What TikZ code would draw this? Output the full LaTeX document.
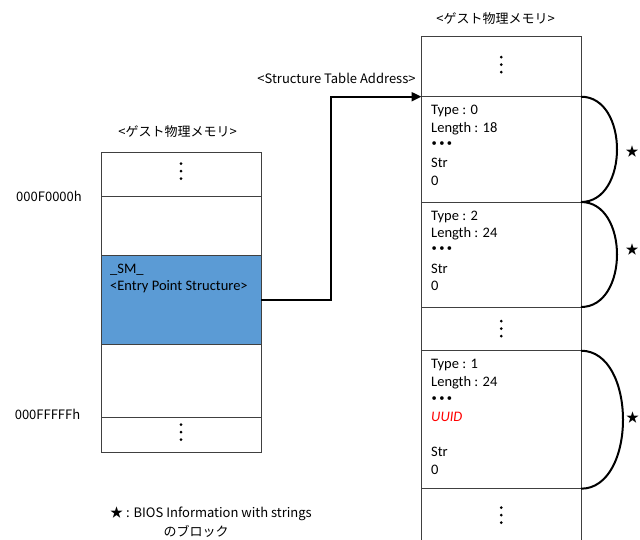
\documentclass[tikz,border=0pt]{standalone}
\usepackage{fontspec}
\setmainfont{Carlito}
\newfontfamily\jp{Noto Sans CJK JP}
\usetikzlibrary{arrows.meta,calc}
\definecolor{boxline}{HTML}{404040}
\definecolor{smblue}{HTML}{5B9BD5}
\begin{document}
\begin{tikzpicture}[x=1pt,y=-1pt,
  mem/.style={draw=boxline, line width=1pt, minimum width=160pt, anchor=north west, inner sep=0pt, outer sep=0pt},
  txt/.style={font=\fontsize{14.5}{17.5}\selectfont, anchor=base west, inner sep=0pt},
  dotsrow/.style={font=\fontsize{10.5}{12}\selectfont, anchor=west, inner sep=0pt},
  lbl/.style={font=\jp\fontsize{13}{15}\selectfont, inner sep=0pt},
  link/.style={line width=2pt, draw=black},
  loopline/.style={line width=2pt, draw=black},
  vdot/.style={fill=black}]
\useasboundingbox (0,0) rectangle (640,539);
\clip (0,0) rectangle (640,539);

% left memory column
\node[mem, minimum height=43.3pt] (L1) at (101,152.7) {};
\node[mem, minimum height=59pt] (L2) at (101,196) {};
\node[mem, minimum height=89pt, fill=smblue] (L3) at (101,255) {};
\node[mem, minimum height=73pt] (L4) at (101,344) {};
\node[mem, minimum height=35pt] (L5) at (101,417) {};

% right memory column
\node[mem, minimum width=159.5pt, minimum height=60pt] (R1) at (421.5,36.7) {};
\node[mem, minimum width=159.5pt, minimum height=105.3pt] (R2) at (421.5,96.7) {};
\node[mem, minimum width=159.5pt, minimum height=105pt] (R3) at (421.5,202) {};
\node[mem, minimum width=159.5pt, minimum height=43.7pt] (R4) at (421.5,307) {};
\node[mem, minimum width=159.5pt, minimum height=138pt] (R5) at (421.5,350.7) {};
\node[mem, minimum width=159.5pt, minimum height=80pt] (R6) at (421.5,488.7) {};

% vertical ellipses
\foreach \n/\dy in {L1/18.3, L5/15, R1/28, R4/21.5, R6/26.3}{
  \foreach \d in {-7.5,0,7.5}{
    \fill[vdot] ($(\n.north)+(0,\dy+\d)$) circle (1.5);
  }
}

% titles and labels
\node[lbl] (ttlL) at (177.5,131.7) {<ゲスト物理メモリ>};
\node[lbl] (ttlR) at (495.5,18.7) {<ゲスト物理メモリ>};
\node[lbl] (sta) at (336.5,78.3) {<Structure Table Address>};
\node[lbl] (a1) at (49,196.5) {000F0000h};
\node[lbl] (a2) at (47.5,414) {000FFFFFh};

% entry point text
\node[txt] (sm) at ($(L3.north west)+(9,18.5)$) {\_SM\_};
\node[txt] (eps) at ($(L3.north west)+(9,35.5)$) {<Entry Point Structure>};

% structure block texts
\node[txt] (r2a) at ($(R2.north west)+(9.5,18)$) {Type : 0};
\node[txt] (r2b) at ($(R2.north west)+(9.5,35.6)$) {Length : 18};
\node[dotsrow] (r2c) at ($(R2.north west)+(10,47.5)$) {• • •};
\node[txt] (r2d) at ($(R2.north west)+(9.5,71)$) {Str};
\node[txt] (r2e) at ($(R2.north west)+(9.5,88.6)$) {0};

\node[txt] (r3a) at ($(R3.north west)+(9.5,18)$) {Type : 2};
\node[txt] (r3b) at ($(R3.north west)+(9.5,35.6)$) {Length : 24};
\node[dotsrow] (r3c) at ($(R3.north west)+(10,47.5)$) {• • •};
\node[txt] (r3d) at ($(R3.north west)+(9.5,71)$) {Str};
\node[txt] (r3e) at ($(R3.north west)+(9.5,88.6)$) {0};

\node[txt] (r5a) at ($(R5.north west)+(9.5,18)$) {Type : 1};
\node[txt] (r5b) at ($(R5.north west)+(9.5,35.6)$) {Length : 24};
\node[dotsrow] (r5c) at ($(R5.north west)+(10,48)$) {• • •};
\node[txt, text=red, font=\fontsize{14.5}{17.5}\selectfont\itshape] (r5d) at ($(R5.north west)+(9.5,70.8)$) {UUID};
\node[txt] (r5e) at ($(R5.north west)+(9.5,106)$) {Str};
\node[txt] (r5f) at ($(R5.north west)+(9.5,123.6)$) {0};

% pointer arrow
\coordinate (bx) at (331,0);
\draw[link, -{Triangle[length=10pt,width=9pt]}] (L3.east) -| (bx |- R2.north west) -- (R2.north west);

% block loops and stars
\draw[loopline] (R2.north east) .. controls +(48,0) and +(48,0) .. (R2.south east);
\draw[loopline] (R3.north east) .. controls +(48,0) and +(48,0) .. (R3.south east);
\draw[loopline] (R5.north east) .. controls +(56,0) and +(56,0) .. (R5.south east);
\node[lbl] (s1) at (632,152) {★};
\node[lbl] (s2) at (632,250) {★};
\node[lbl] (s3) at (632.5,418) {★};

% legend
\node[lbl] (leg1) at (211,514) {★ : BIOS Information with strings};
\node[lbl] (leg2) at (196,531) {のブロック};
\end{tikzpicture}
\end{document}
